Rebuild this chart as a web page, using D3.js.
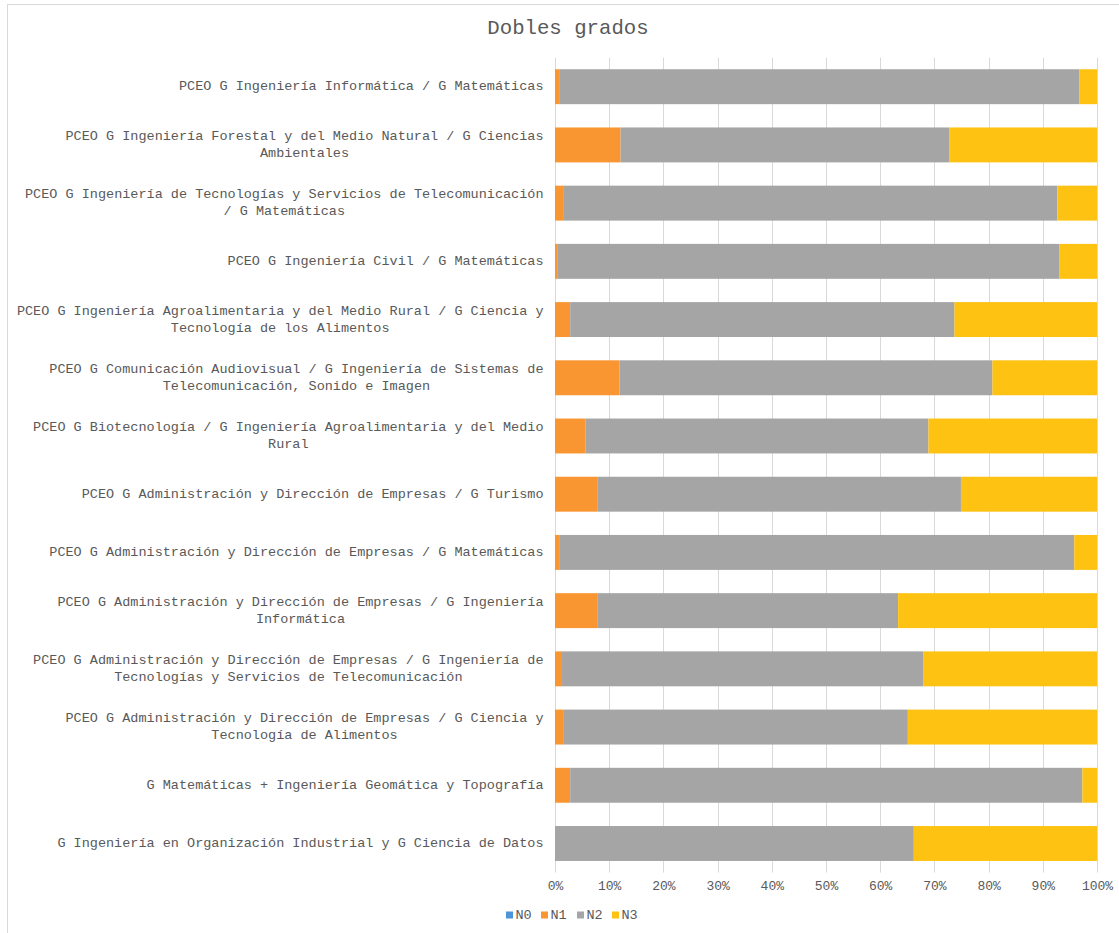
<!DOCTYPE html>
<html>
<head>
<meta charset="utf-8">
<script src="https://cdn.jsdelivr.net/npm/d3@7"></script>
<style>
  body { margin: 0; background: #fff; }
  text { font-family: 'Liberation Mono', 'Courier New', monospace; fill: #595959; }
</style>
</head>
<body>
<div id="chart"></div>
<script>
// categories, top to bottom
const categories = [
  'PCEO G Ingeniería Informática / G Matemáticas',
  'PCEO G Ingeniería Forestal y del Medio Natural / G Ciencias Ambientales',
  'PCEO G Ingeniería de Tecnologías y Servicios de Telecomunicación / G Matemáticas',
  'PCEO G Ingeniería Civil / G Matemáticas',
  'PCEO G Ingeniería Agroalimentaria y del Medio Rural / G Ciencia y Tecnología de los Alimentos',
  'PCEO G Comunicación Audiovisual / G Ingeniería de Sistemas de Telecomunicación, Sonido e Imagen',
  'PCEO G Biotecnología / G Ingeniería Agroalimentaria y del Medio Rural',
  'PCEO G Administración y Dirección de Empresas / G Turismo',
  'PCEO G Administración y Dirección de Empresas / G Matemáticas',
  'PCEO G Administración y Dirección de Empresas / G Ingeniería Informática',
  'PCEO G Administración y Dirección de Empresas / G Ingeniería de Tecnologías y Servicios de Telecomunicación',
  'PCEO G Administración y Dirección de Empresas / G Ciencia y Tecnología de Alimentos',
  'G Matemáticas + Ingeniería Geomática y Topografía',
  'G Ingeniería en Organización Industrial y G Ciencia de Datos'
]

// percentages per level (same order as categories)
const n0 = [0, 0, 0, 0, 0, 0, 0, 0, 0, 0, 0, 0, 0, 0]
const n1 = [0.9, 12.1, 1.5, 0.4, 2.8, 11.9, 5.6, 7.9, 0.9, 7.9, 1.3, 1.5, 2.8, 0]
const n2 = [95.8, 60.7, 91.2, 92.7, 70.9, 68.8, 63.3, 67.0, 94.9, 55.4, 66.7, 63.6, 94.5, 66.2]
const n3 = [3.3, 27.2, 7.3, 6.9, 26.3, 19.3, 31.1, 25.1, 4.2, 36.7, 32.0, 34.9, 2.7, 33.8]

const seriesNames = ['N0', 'N1', 'N2', 'N3']
const xTicks = [0, 10, 20, 30, 40, 50, 60, 70, 80, 90, 100]

const colors = ['#4e94d8', '#fa9632', '#a5a5a5', '#fec312']

const W = 1119
const H = 933
const margin = { top: 57.6, right: 22, bottom: 60.4, left: 555 }
const width = W - margin.left - margin.right
const height = H - margin.top - margin.bottom

const table = categories.map((c, i) => ({ cat: c, N0: n0[i], N1: n1[i], N2: n2[i], N3: n3[i] }))
const stacked = d3.stack().keys(seriesNames)(table)

const svg = d3.select('#chart')
  .append('svg')
  .attr('width', W)
  .attr('height', H)

// chart border
svg.append('rect')
  .attr('x', 7.5)
  .attr('y', 4.5)
  .attr('width', 1140)
  .attr('height', 950)
  .attr('fill', 'none')
  .attr('stroke', '#d9d9d9')

svg.append('text')
  .attr('x', 568)
  .attr('y', 28)
  .attr('text-anchor', 'middle')
  .attr('dominant-baseline', 'central')
  .style('font-size', '20.7px')
  .text('Dobles grados')

const g = svg.append('g')
  .attr('transform', 'translate(' + margin.left + ',' + margin.top + ')')

const xPositionScale = d3.scaleLinear().domain([0, 100]).range([0, width])
const yPositionScale = d3.scaleBand()
  .domain(categories)
  .range([0, height])
  .paddingInner(0.4)
  .paddingOuter(0.2)

// gridlines
g.selectAll('.grid')
  .data(xTicks)
  .enter()
  .append('line')
  .attr('class', 'grid')
  .attr('x1', d => Math.round(xPositionScale(d)) + 0.5)
  .attr('x2', d => Math.round(xPositionScale(d)) + 0.5)
  .attr('y1', 0)
  .attr('y2', height)
  .attr('stroke', '#d9d9d9')
  .attr('stroke-width', 1)

// bars
g.selectAll('.series')
  .data(stacked)
  .enter()
  .append('g')
  .attr('class', 'series')
  .attr('fill', (d, i) => colors[i])
  .selectAll('rect')
  .data(d => d)
  .enter()
  .append('rect')
  .attr('x', d => xPositionScale(d[0]))
  .attr('width', d => xPositionScale(d[1]) - xPositionScale(d[0]))
  .attr('y', d => yPositionScale(d.data.cat))
  .attr('height', yPositionScale.bandwidth())

// x axis
const xAxis = d3.axisBottom(xPositionScale)
  .tickValues(xTicks)
  .tickSize(0)
  .tickPadding(8)
  .tickFormat(d => d + '%')
g.append('g')
  .attr('class', 'axis x-axis')
  .attr('transform', 'translate(0,' + height + ')')
  .call(xAxis)
g.select('.x-axis .domain').remove()
g.selectAll('.x-axis text')
  .style('font-size', '13px')
  .style('font-family', "'Liberation Mono', monospace")
  .attr('fill', '#595959')

// category labels, wrapped
const maxLabelWidth = 530
const lineHeight = 17
const labels = g.selectAll('.cat-label')
  .data(categories)
  .enter()
  .append('text')
  .attr('class', 'cat-label')
  .attr('text-anchor', 'middle')
  .style('font-size', '13.5px')

labels.each(function (d) {
  const el = d3.select(this)
  const words = d.split(' ')
  const lines = []
  let line = []
  const probe = el.append('tspan')
  words.forEach(w => {
    const tryLine = line.concat([w]).join(' ')
    probe.text(tryLine)
    if (probe.node().getComputedTextLength() > maxLabelWidth && line.length) {
      lines.push(line.join(' '))
      line = [w]
    } else {
      line.push(w)
    }
  })
  lines.push(line.join(' '))
  probe.remove()

  // measure widest line for right alignment of the block
  let widest = 0
  lines.forEach(l => {
    const t = el.append('tspan').text(l)
    widest = Math.max(widest, t.node().getComputedTextLength())
    t.remove()
  })
  const cx = -11.5 - widest / 2
  const cy = yPositionScale(d) + yPositionScale.bandwidth() / 2
  const y0 = cy - (lines.length - 1) * lineHeight / 2
  lines.forEach((l, i) => {
    el.append('tspan')
      .attr('x', cx)
      .attr('y', y0 + i * lineHeight)
      .attr('dominant-baseline', 'central')
      .text(l)
  })
})

// legend
const legendX = [506, 541, 577, 612]
const legend = svg.selectAll('.legend')
  .data(seriesNames)
  .enter()
  .append('g')
  .attr('class', 'legend')
  .attr('transform', (d, i) => 'translate(' + legendX[i] + ',915)')
legend.append('rect')
  .attr('x', 0)
  .attr('y', -3.5)
  .attr('width', 7)
  .attr('height', 7)
  .attr('fill', (d, i) => colors[i])
legend.append('text')
  .attr('x', 9.5)
  .attr('y', 0)
  .attr('dominant-baseline', 'central')
  .style('font-size', '13.5px')
  .text(d => d)
</script>
</body>
</html>
